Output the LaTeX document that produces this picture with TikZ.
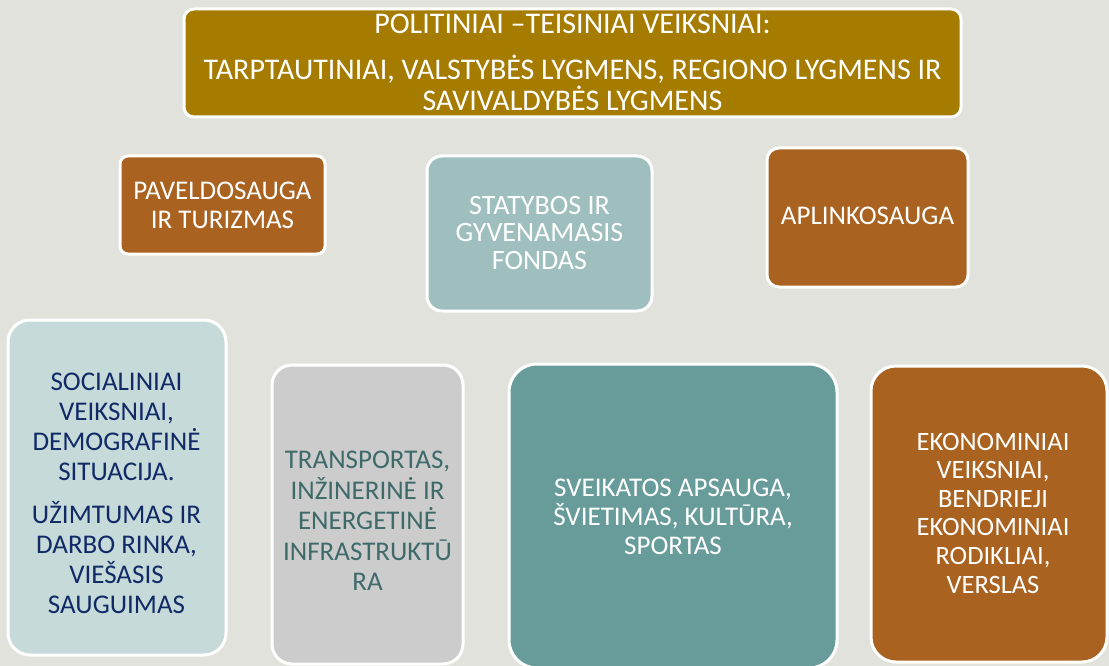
\documentclass[tikz,border=0pt]{standalone}
\usepackage{fontspec}
\setmainfont{Carlito}
\definecolor{bg}{HTML}{E1E2DC}
\definecolor{gold}{HTML}{A57C00}
\definecolor{rust}{HTML}{A9621F}
\definecolor{tealL}{HTML}{9FBFBF}
\definecolor{tealXL}{HTML}{C6DADA}
\definecolor{greyB}{HTML}{CCCCCC}
\definecolor{tealM}{HTML}{689C9A}
\definecolor{navy}{HTML}{112A66}
\definecolor{tealT}{HTML}{3F6A6A}
\tikzset{
  card/.style={draw=white, line width=3pt, inner sep=0pt, outer sep=0pt},
  lbl/.style={align=center, text=white, inner sep=0pt, font=\fontsize{27}{29.5}\selectfont},
}
\begin{document}
\begin{tikzpicture}[x=1pt,y=-1pt]
\useasboundingbox (0,0) rectangle (1109,666);
\fill[bg] (0,0) rectangle (1109,666);
% boxes
\node[card, fill=gold, rounded corners=10pt, minimum width=777pt, minimum height=108pt] (top) at (572.5,63) {};
\node[card, fill=rust, rounded corners=8pt, minimum width=205pt, minimum height=98pt] (pav) at (222.5,205) {};
\node[card, fill=tealL, rounded corners=15pt, minimum width=225pt, minimum height=155pt] (stat) at (539.5,233.5) {};
\node[card, fill=rust, rounded corners=12pt, minimum width=201pt, minimum height=139pt] (apl) at (867.5,217.5) {};
\node[card, fill=tealXL, rounded corners=22pt, minimum width=218pt, minimum height=335pt] (soc) at (117,487.5) {};
\node[card, fill=greyB, rounded corners=20pt, minimum width=191pt, minimum height=299pt] (trans) at (367.5,514.5) {};
\node[card, fill=tealM, rounded corners=28pt, minimum width=328pt, minimum height=304pt] (sveik) at (673,516) {};
\node[card, fill=rust, rounded corners=25pt, minimum width=236pt, minimum height=296pt] (ekon) at (989,514) {};
% texts
\node[lbl, font=\fontsize{30}{31}\selectfont] (topt) at (572.5,62) {POLITINIAI –TEISINIAI VEIKSNIAI:\\[15pt]TARPTAUTINIAI, VALSTYBĖS LYGMENS, REGIONO LYGMENS IR\\SAVIVALDYBĖS LYGMENS};
\node[lbl, font=\fontsize{27}{29}\selectfont] (pavt) at (222.5,205) {PAVELDOSAUGA\\IR TURIZMAS};
\node[lbl, font=\fontsize{28}{27.5}\selectfont] (statt) at (539.5,233) {STATYBOS IR\\GYVENAMASIS\\FONDAS};
\node[lbl] (aplt) at (867.5,216) {APLINKOSAUGA};
\node[lbl, text=navy, font=\fontsize{27}{30}\selectfont] (soct) at (116.5,493) {SOCIALINIAI\\VEIKSNIAI,\\DEMOGRAFINĖ\\SITUACIJA.\\[13pt]UŽIMTUMAS IR\\DARBO RINKA,\\VIEŠASIS\\SAUGUIMAS};
\node[lbl, text=tealT, font=\fontsize{27}{30.5}\selectfont] (transt) at (367.5,521) {TRANSPORTAS,\\INŽINERINĖ IR\\ENERGETINĖ\\INFRASTRUKTŪ\\RA};
\node[lbl, font=\fontsize{27}{29}\selectfont] (sveikt) at (673,517) {SVEIKATOS APSAUGA,\\ŠVIETIMAS, KULTŪRA,\\SPORTAS};
\node[lbl, font=\fontsize{26.5}{28.6}\selectfont] (ekont) at (993,513) {EKONOMINIAI\\VEIKSNIAI,\\BENDRIEJI\\EKONOMINIAI\\RODIKLIAI,\\VERSLAS};
\end{tikzpicture}
\end{document}
